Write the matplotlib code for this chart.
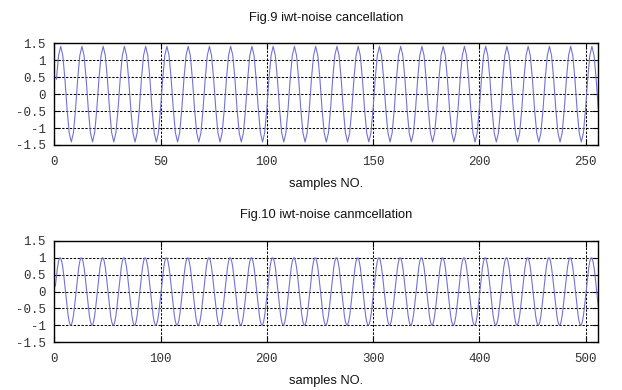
import numpy as np
import matplotlib
matplotlib.use("Agg")
import matplotlib.pyplot as plt

top_title = "Fig.9 iwt-noise cancellation"
bottom_title = "Fig.10 iwt-noise canmcellation"
xlabel = "samples NO."

top_cycle = [0.44, 1.14, 1.41, 1.14, 0.44, -0.44, -1.14, -1.41, -1.14, -0.44]
top_n = 256
bottom_cycle = [0.16, 0.45, 0.71, 0.89, 0.99, 0.99, 0.89, 0.71, 0.45, 0.16,
                -0.16, -0.45, -0.71, -0.89, -0.99, -0.99, -0.89, -0.71, -0.45, -0.16]
bottom_n = 512

top_xticks = [0, 50, 100, 150, 200, 250]
bottom_xticks = [0, 100, 200, 300, 400, 500]
yticks = [-1.5, -1, -0.5, 0, 0.5, 1, 1.5]
ytick_labels = ["-1.5", "-1", "-0.5", "0", "0.5", "1", "1.5"]

top_y = np.tile(top_cycle, top_n // len(top_cycle) + 1)[:top_n]
top_x = np.arange(1, top_n + 1)
bottom_y = np.tile(bottom_cycle, bottom_n // len(bottom_cycle) + 1)[:bottom_n]
bottom_x = np.arange(1, bottom_n + 1)

line_color = "#7272d6"

fig = plt.figure(figsize=(6.22, 3.90), dpi=100)
fig.patch.set_facecolor("white")

W, H = 622.0, 390.0
def axes_rect(left, right, top, bottom):
    return [left / W, 1 - bottom / H, (right - left) / W, (bottom - top) / H]

ax1 = fig.add_axes(axes_rect(54.3, 598.3, 43.3, 145.0))
ax2 = fig.add_axes(axes_rect(54.3, 598.3, 240.7, 342.3))

for ax, x, y, xt, xmax in [(ax1, top_x, top_y, top_xticks, top_n),
                            (ax2, bottom_x, bottom_y, bottom_xticks, bottom_n)]:
    ax.plot(x, y, color=line_color, linewidth=0.8)
    ax.set_xlim(0, xmax)
    ax.set_ylim(-1.5, 1.5)
    ax.set_xticks(xt)
    ax.set_xticklabels([str(v) for v in xt])
    ax.set_yticks(yticks)
    ax.set_yticklabels(ytick_labels)
    ax.grid(True, color="black", linestyle=(0, (2.2, 1.5)), linewidth=0.75)
    ax.tick_params(direction="in", length=4, width=0.8, color="black",
                   labelsize=9, top=True, right=True)
    ax.tick_params(axis="x", pad=8)
    ax.tick_params(axis="y", pad=6)
    for lab in ax.get_xticklabels() + ax.get_yticklabels():
        lab.set_fontfamily("Liberation Mono")
        lab.set_color("#333333")
    for s in ax.spines.values():
        s.set_color("black")
        s.set_linewidth(1.0)

txt_kw = dict(ha="center", va="center", fontsize=9.3, family="Liberation Sans",
              color="#111111")
fig.text(326.3 / W, 1 - 18 / H, top_title, **txt_kw)
fig.text(326.3 / W, 1 - 215 / H, bottom_title, **txt_kw)
fig.text(326.3 / W, 1 - 184 / H, xlabel, **txt_kw)
fig.text(326.3 / W, 1 - 381 / H, xlabel, **txt_kw)

fig.savefig("out.png", dpi=100)
